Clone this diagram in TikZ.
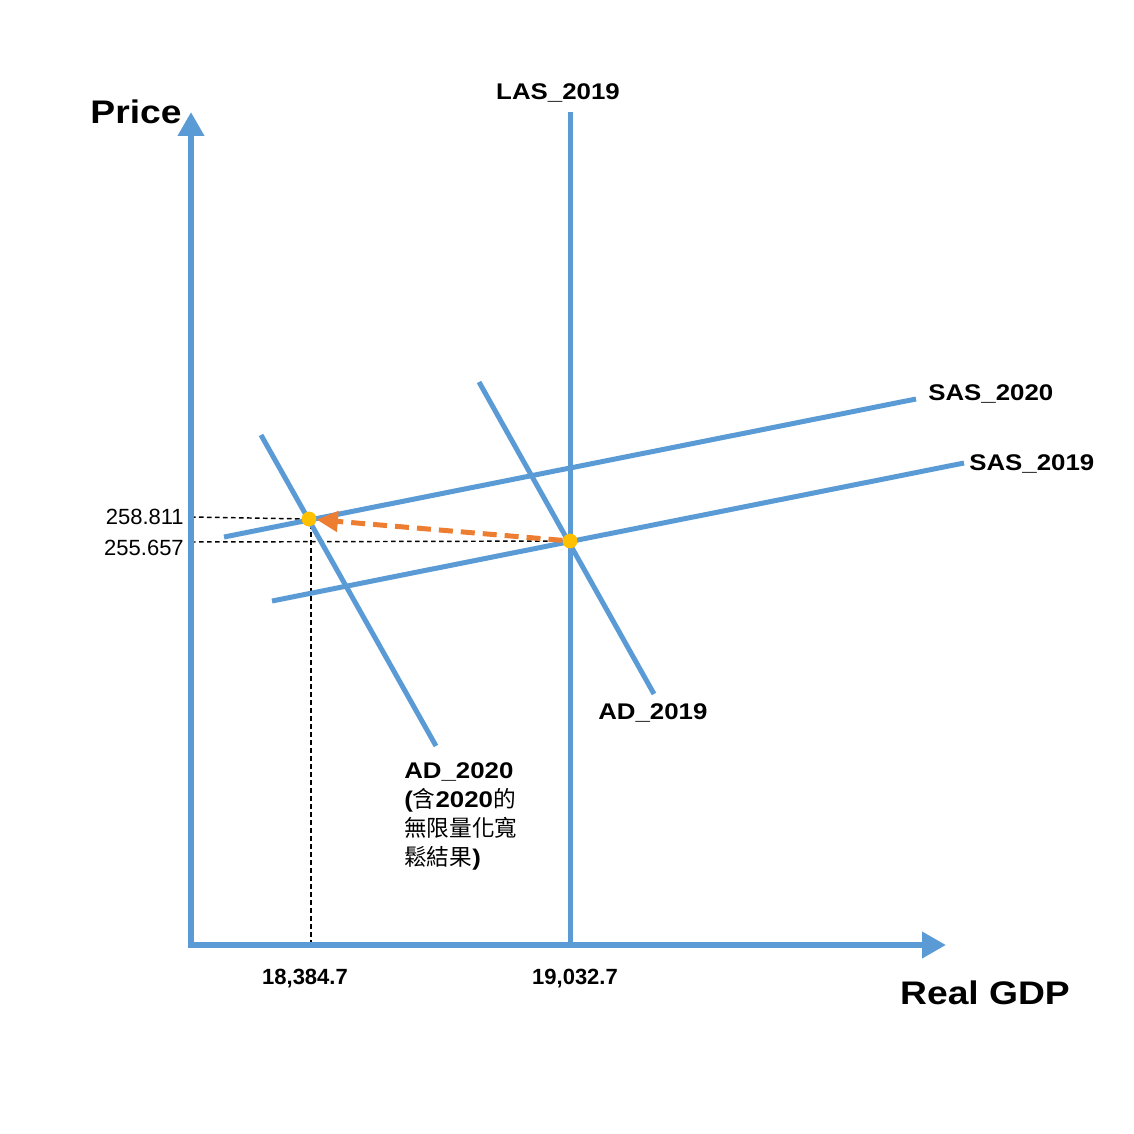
\documentclass[tikz,border=0pt]{standalone}
\usepackage{fontspec}
\setmainfont{Liberation Sans}
\newfontfamily\widesans[FakeStretch=1.14]{Liberation Sans}
\newfontfamily\cjk{Noto Sans CJK TC}
\usetikzlibrary{arrows.meta}
\definecolor{gblue}{HTML}{5B9BD5}
\definecolor{gorange}{HTML}{ED7D31}
\definecolor{gyellow}{HTML}{FFC000}

\begin{document}
\begin{tikzpicture}[x=0.75pt, y=-0.75pt,
  curve/.style={gblue, line width=3.75pt},
  axis/.style={gblue, line width=4.5pt, -{Triangle[length=18pt, width=19pt]}},
  guide/.style={black, line width=1.1pt, dash pattern=on 3.5pt off 2.5pt},
  eqpt/.style={circle, fill=gyellow, inner sep=0pt, minimum size=11pt},
  lbl/.style={font=\widesans\fontsize{17}{21.75}\selectfont\bfseries, inner sep=0pt},
  axlbl/.style={font=\widesans\fontsize{24.5}{28}\selectfont\bfseries, inner sep=0pt},
  numlbl/.style={font=\fontsize{16.5}{20}\selectfont, inner sep=0pt}]
\useasboundingbox (0,0) rectangle (1134,1134);

% curve end points
\coordinate (origin) at (191,945);
\coordinate (ytip) at (191,112);
\coordinate (xstart) at (188,945);
\coordinate (xtip) at (946,945);
\coordinate (las top) at (570,112);
\coordinate (las bot) at (570,945);
\coordinate (sas20 a) at (224,537);
\coordinate (sas20 b) at (916,399);
\coordinate (sas19 a) at (272,601);
\coordinate (sas19 b) at (964,463);
\coordinate (ad20 a) at (261,435);
\coordinate (ad20 b) at (436,746);
\coordinate (ad19 a) at (479,382);
\coordinate (ad19 b) at (654,694);

% equilibrium points
\node[eqpt] (e20) at (309,519) {};
\node[eqpt] (e19) at (570,541) {};

% guide lines
\coordinate (p20) at (191,517);
\coordinate (p19) at (191,542);
\coordinate (q20) at (311,945);
\coordinate (q20 top) at (311,519);
\draw[guide] (p20) -- (e20.center);
\draw[guide] (p19) -- (e19.center);
\draw[guide] (q20) -- (q20 top);

% curves
\draw[curve] (sas20 a) -- (sas20 b);
\draw[curve] (sas19 a) -- (sas19 b);
\draw[curve] (ad20 a) -- (ad20 b);
\draw[curve] (ad19 a) -- (ad19 b);
\draw[curve] (las bot) -- (las top);

% axes
\draw[axis] (origin) -- (ytip);
\draw[axis] (xstart) -- (xtip);

% shift
\draw[gorange, line width=3.75pt, dash pattern=on 10.5pt off 6pt,
  -{Triangle[length=16pt, width=15pt]}] (e19) -- (e20);
\node[eqpt] at (e20) {};
\node[eqpt] at (e19) {};

% labels
\node[axlbl] (ylbl) at (136,112) {Price};
\node[axlbl] (xlbl) at (985,993) {Real GDP};
\node[lbl] (laslbl) at (558,93) {LAS\_2019};
\node[lbl, anchor=west] (sas20lbl) at (928,394) {SAS\_2020};
\node[lbl, anchor=west] (sas19lbl) at (969,464) {SAS\_2019};
\node[lbl, anchor=west] (ad19lbl) at (598,713) {AD\_2019};
\node[lbl, anchor=north west, align=left] (ad20lbl) at (404,762)
  {AD\_2020\\({\cjk\mdseries 含}2020{\cjk\mdseries 的}\\{\cjk\mdseries 無限量化寬}\\{\cjk\mdseries 鬆結果})};
\node[numlbl, anchor=east] (p20lbl) at (184,517) {258.811};
\node[numlbl, anchor=east] (p19lbl) at (184,548) {255.657};
\node[numlbl, font=\fontsize{16.5}{20}\selectfont\bfseries] (q20lbl) at (305,979) {18,384.7};
\node[numlbl, font=\fontsize{16.5}{20}\selectfont\bfseries] (q19lbl) at (575,979) {19,032.7};
\end{tikzpicture}
\end{document}
